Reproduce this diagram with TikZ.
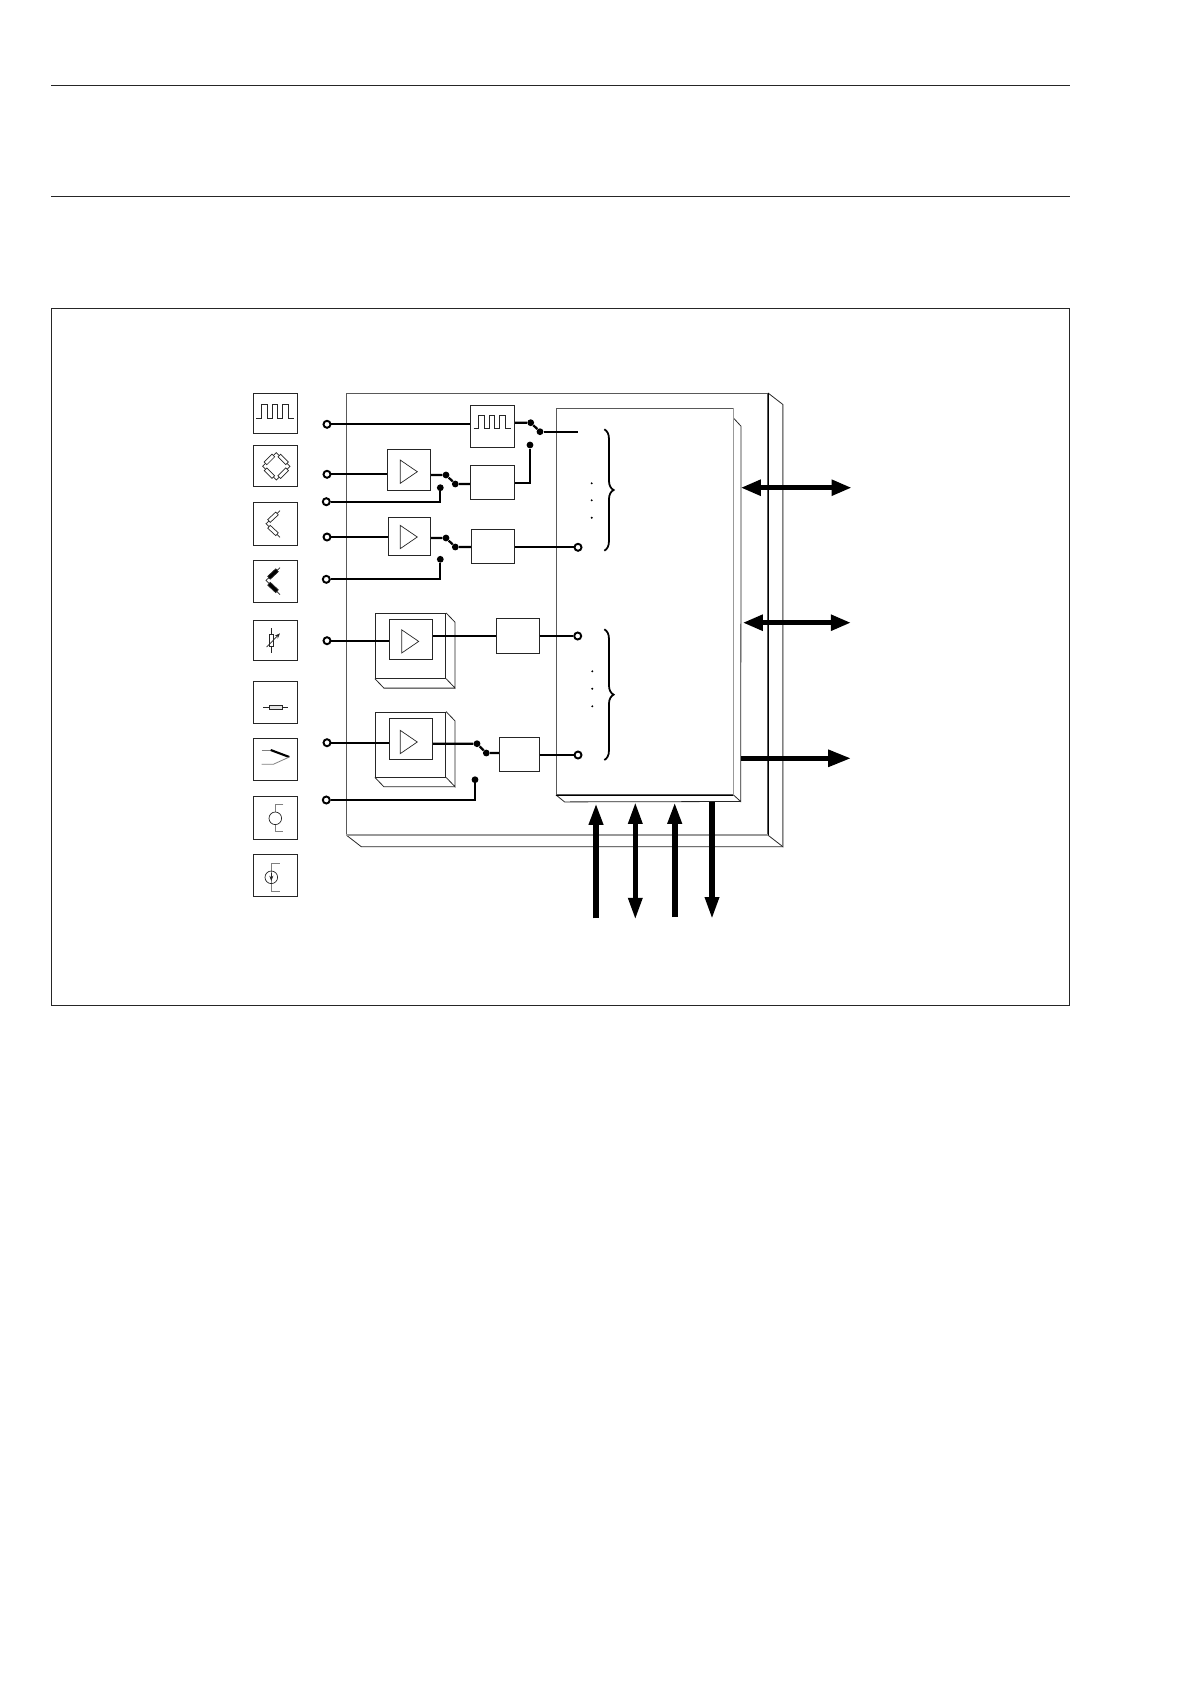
\documentclass[tikz,border=0pt]{standalone}
\usepackage{tikz}
\usetikzlibrary{positioning, arrows.meta, decorations.pathreplacing}
\newcommand{\px}{0.02cm}
% depth lines of a box, drawn from its front face
\newcommand{\depthlines}[3]{
    \draw[frameline] (#1.north east) -- ++(#2,#3) -- ([xshift=#2*\px,yshift=-#3*\px]#1.south east) -- (#1.south east);
    \draw[frameline] (#1.south west) -- ([xshift=#2*\px,yshift=-#3*\px]#1.south west) -- ([xshift=#2*\px,yshift=-#3*\px]#1.south east);
}
\newcommand{\ampsign}[2]{\draw[iconline] (#1-8.7,#2-11.6) -- (#1-8.7,#2+11.6) -- (#1+8.3,#2) -- cycle;}
\newcommand{\pulsetrain}[2]{\draw[iconline] (#1,#2+13.5) -- ++(5,0) -- ++(0,-13.5) -- ++(5.7,0) -- ++(0,13.5) -- ++(5,0) -- ++(0,-13.5) -- ++(5.5,0) -- ++(0,13.5) -- ++(5,0) -- ++(0,-13.5) -- ++(6,0) -- ++(0,13.5) -- ++(5,0);}
\newcommand{\resistor}[4]{\begin{scope}[shift={(#1,#2)},rotate=#3]
    \draw[iconline, fill=#4] (-5.5,-1.9) rectangle (5.5,1.9);
\end{scope}}

\begin{document}
\begin{tikzpicture}[
    x=0.02cm, y=-0.02cm,
    frameline/.style={line width=0.45pt, black!85},
    iconline/.style={line width=0.4pt, black!85},
    faintline/.style={line width=0.45pt, black!50},
    shadeline/.style={line width=0.8pt, black!40},
    wire/.style={line width=1.3pt},
    thinwire/.style={line width=1pt},
    blockbox/.style={
        rectangle, draw=black!85, line width=0.45pt, fill=white,
        inner sep=0pt
    },
    sensorbox/.style={blockbox, minimum width=44*\px},
    terminal/.style={
        circle, draw=black, line width=1.1pt, fill=white,
        minimum size=7*\px, inner sep=0pt
    },
    contact/.style={
        circle, fill=black, draw=none,
        minimum size=6.8*\px, inner sep=0pt
    },
    busline/.style={line width=2.9pt, {Triangle[length=11.5pt,width=8.6pt]}-{Triangle[length=11.5pt,width=8.6pt]}},
    busout/.style={line width=2.9pt, -{Triangle[length=13pt,width=9.2pt]}},
    busin/.style={line width=3.2pt, -{Triangle[length=12.5pt,width=7.6pt]}}
]
\useasboundingbox (0,0) rectangle (1192,1684);

% === Page rules and frame ===
\coordinate (ruleal) at (51,85.5);
\coordinate (rulear) at (1069.5,85.5);
\coordinate (rulebl) at (51,196.5);
\coordinate (rulebr) at (1069.5,196.5);
\draw[frameline] (ruleal) -- (rulear);
\draw[frameline] (rulebl) -- (rulebr);
\node[blockbox, minimum width=1018.5*\px, minimum height=697*\px] (frame) at (560.25,656.5) {};

% === Module and memory bodies ===
\node[blockbox, draw=black!65, minimum width=420.8*\px, minimum height=441.4*\px] (module) at (557.1,614) {};
\depthlines{module}{15}{11.6}
\draw[shadeline] (module.south west) -- (module.south east);
\draw[frameline, black] (module.north east) -- (module.south east);
\draw[faintline] (782.7,405) -- (782.7,846.3);
\node[blockbox, draw=black!65, minimum width=176.7*\px, minimum height=386.2*\px] (logic) at (644.65,601.4) {};
\draw[frameline] ([yshift=-10*\px]logic.north east) -- ++(7.7,8.4) -- (740.7,801.5) -- (logic.south east);
\draw[frameline] (logic.south west) -- ++(8.7,7) -- (740.7,801.5);
\draw[frameline, black] (logic.south west) -- (logic.south east);
\draw[shadeline] (logic.north east) -- (logic.south east);

% === Sensor boxes ===
\node[sensorbox, minimum height=40*\px] (sensa) at (275.3,413.3) {};
\node[sensorbox, minimum height=41*\px] (sensb) at (275.3,465.8) {};
\node[sensorbox, minimum height=43*\px] (sensc) at (275.3,523.8) {};
\node[sensorbox, minimum height=42*\px] (sensd) at (275.3,581.3) {};
\node[sensorbox, minimum height=40*\px] (sense) at (275.3,640.3) {};
\node[sensorbox, minimum height=42*\px] (sensf) at (275.3,702.3) {};
\node[sensorbox, minimum height=42*\px] (sensg) at (275.3,759.3) {};
\node[sensorbox, minimum height=43*\px] (sensh) at (275.3,817.8) {};
\node[sensorbox, minimum height=42*\px] (sensi) at (275.3,875.3) {};

% Sensor symbols
\pulsetrain{256.4}{404.8}
\draw[iconline] (276.3,452.6) -- (290,466.3) -- (276.3,480) -- (262.6,466.3) -- cycle;
\resistor{283.2}{459.4}{-45}{white}
\resistor{283.2}{473.2}{45}{white}
\resistor{269.4}{459.4}{45}{white}
\resistor{269.4}{473.2}{-45}{white}
\draw[iconline] (280,510.7) -- (266,523.7) -- (280,537.3);
\resistor{273}{517.2}{43}{white}
\resistor{273}{530.5}{-43}{white}
\draw[iconline] (280,567.7) -- (266,580.3) -- (280,594.7);
\resistor{273}{574}{43}{black}
\resistor{273}{587.5}{-43}{black}
\draw[iconline] (271.3,628.3) -- (271.3,652.7);
\draw[iconline, fill=white] (269.3,634) rectangle (273.3,646.7);
\draw[iconline, -{Stealth[length=3pt]}] (266.7,647) -- (280,633.3);
\draw[iconline] (263.3,707.3) -- (288.3,707.3);
\draw[iconline, fill=black!10] (269.3,705) rectangle (282.7,709.6);
\draw[faintline] (261.7,750) -- (270.7,750);
\draw[line width=1.2pt] (270.7,750) -- (289.3,757);
\draw[faintline] (289.3,757) -- (273.3,764.3) -- (261.7,764.3);
\draw[faintline] (283.3,804.3) -- (275,804.3) -- (275,812);
\draw[faintline] (275,824.6) -- (275,831.7) -- (283.3,831.7);
\draw[iconline] (275.3,818.3) circle (6.3);
\draw[faintline] (279.7,863.3) -- (271.3,863.3) -- (271.3,891.7) -- (279.7,891.7);
\draw[iconline] (271.3,877.3) circle (6.3);
\draw[iconline, -{Stealth[length=3pt]}] (271.3,873) -- (271.3,881);

% === Input terminals ===
\node[terminal] (inpulse) at (327,424.3) {};
\node[terminal] (inaplus) at (327,474.3) {};
\node[terminal] (inaminus) at (326.3,501.7) {};
\node[terminal] (inbplus) at (327,537) {};
\node[terminal] (inbminus) at (326.3,579.3) {};
\node[terminal] (incplus) at (327,640.7) {};
\node[terminal] (indplus) at (327,742.7) {};
\node[terminal] (indminus) at (326.3,800) {};

% === Channel blocks ===
\node[blockbox, minimum width=44.4*\px, minimum height=42*\px] (pulse) at (492.5,426.3) {};
\pulsetrain{473.5}{415}
\node[blockbox, minimum width=43.4*\px, minimum height=40.7*\px] (ampa) at (409,469.7) {};
\ampsign{409}{471.7}
\node[blockbox, minimum width=44.4*\px, minimum height=34*\px] (adca) at (492.5,482.3) {};
\node[blockbox, minimum width=42.4*\px, minimum height=37.3*\px] (ampb) at (409.5,536.3) {};
\ampsign{409}{537}
\node[blockbox, minimum width=43.4*\px, minimum height=34*\px] (adcb) at (493,546.3) {};

\node[blockbox, minimum width=70.4*\px, minimum height=65*\px] (slabc) at (410.5,645.8) {};
\depthlines{slabc}{9}{9.4}
\node[blockbox, minimum width=43.7*\px, minimum height=40.7*\px] (ampc) at (410.85,639.35) {};
\ampsign{410.4}{641.4}
\node[blockbox, minimum width=43*\px, minimum height=35*\px] (adcc) at (517.8,635.8) {};

\node[blockbox, minimum width=70.4*\px, minimum height=65*\px] (slabd) at (410.5,744.5) {};
\depthlines{slabd}{9}{9.4}
\node[blockbox, minimum width=43.7*\px, minimum height=40.7*\px] (ampd) at (410.85,738.65) {};
\ampsign{409}{742}
\node[blockbox, minimum width=40*\px, minimum height=34.4*\px] (adcd) at (519.3,754.5) {};

% === Switch contacts and ends ===
\node[contact] (swpa) at (530.7,422.7) {};
\node[contact] (swpb) at (540,431.7) {};
\node[contact] (swpc) at (530,445) {};
\node[contact] (swaa) at (446,475) {};
\node[contact] (swab) at (455.3,484) {};
\node[contact] (swac) at (440.3,487.7) {};
\node[contact] (swba) at (446,538) {};
\node[contact] (swbb) at (455.3,547) {};
\node[contact] (swbc) at (440.3,559.3) {};
\node[contact] (swda) at (477,743.7) {};
\node[contact] (swdb) at (486.3,753) {};
\node[contact] (swdc) at (475,779.7) {};
\coordinate (chana) at (577.7,431.7);
\node[terminal] (chanb) at (578,547.3) {};
\node[terminal] (chanc) at (577.7,636) {};
\node[terminal] (chand) at (578,755) {};

% === Wiring ===
\draw[wire] (inpulse) -- (inpulse -| pulse.west);
\draw[wire] (pulse.east |- swpa) -- (swpa) -- (swpb);
\draw[wire] (swpb) -- (chana);
\draw[wire] (adca.east |- 530,483) -- (swpc |- 530,483) -- (swpc);
\draw[wire] (inaplus) -- (inaplus -| ampa.west);
\draw[wire] (ampa.east |- swaa) -- (swaa) -- (swab) -- (swab -| adca.west);
\draw[thinwire] (inaminus) -- (inaminus -| swac) -- (swac);
\draw[wire] (inbplus) -- (inbplus -| ampb.west);
\draw[wire] (ampb.east |- swba) -- (swba) -- (swbb) -- (swbb -| adcb.west);
\draw[thinwire] (inbminus) -- (inbminus -| swbc) -- (swbc);
\draw[wire] (adcb.east |- chanb) -- (chanb);
\draw[wire] (incplus) -- (incplus -| ampc.west);
\draw[thinwire] (ampc.east |- adcc) -- (adcc.west);
\draw[thinwire] (adcc.east |- chanc) -- (chanc);
\draw[thinwire] (indplus) -- (indplus -| ampd.west);
\draw[wire] (ampd.east |- swda) -- (swda) -- (swdb) -- (swdb -| adcd.west);
\draw[wire] (indminus) -- (indminus -| swdc) -- (swdc);
\draw[thinwire] (adcd.east |- chand) -- (chand);

% === Channel braces ===
\coordinate (bracealeft) at (604.3,429.3);
\coordinate (braceaend) at (604.3,550.7);
\coordinate (braceblest) at (604.3,629.3);
\coordinate (bracebend) at (604.3,760);
\draw[decorate, decoration={brace, amplitude=5.3pt}, line width=1pt] (bracealeft) -- (braceaend);
\draw[decorate, decoration={brace, amplitude=5.3pt}, line width=1pt] (braceblest) -- (bracebend);
\foreach \doty in {483.3, 500.3, 517.7} {\fill (591.7,\doty) circle (1.1);}
\foreach \doty in {671.3, 688.7, 706.3} {\fill (592.3,\doty) circle (1.1);}

% === Bus arrows ===
\coordinate (busal) at (740.7,487.7);
\coordinate (busar) at (851.7,487.7);
\coordinate (busbl) at (742.7,622.7);
\coordinate (busbr) at (851,622.7);
\coordinate (buscl) at (741,758.3);
\coordinate (buscr) at (851,758.3);
\draw[busline] (busal) -- (busar);
\draw[busline] (busbl) -- (busbr);
\draw[busout] (buscl) -- (buscr);

\coordinate (pinat) at (596,803);
\coordinate (pinab) at (596,918.3);
\coordinate (pinbt) at (635.3,802);
\coordinate (pinbb) at (635.3,919.7);
\coordinate (pinct) at (674.7,802);
\coordinate (pincb) at (674.7,917);
\coordinate (pindt) at (712,802);
\coordinate (pindb) at (712,919);
\draw[busin] (pinab) -- (pinat);
\draw[busin, line width=2.9pt, {Triangle[length=12.5pt,width=7.6pt]}-{Triangle[length=12.5pt,width=7.6pt]}] (pinbt) -- (pinbb);
\draw[busin] (pincb) -- (pinct);
\draw[busin, line width=2.9pt] (pindt) -- (pindb);

\end{tikzpicture}
\end{document}
